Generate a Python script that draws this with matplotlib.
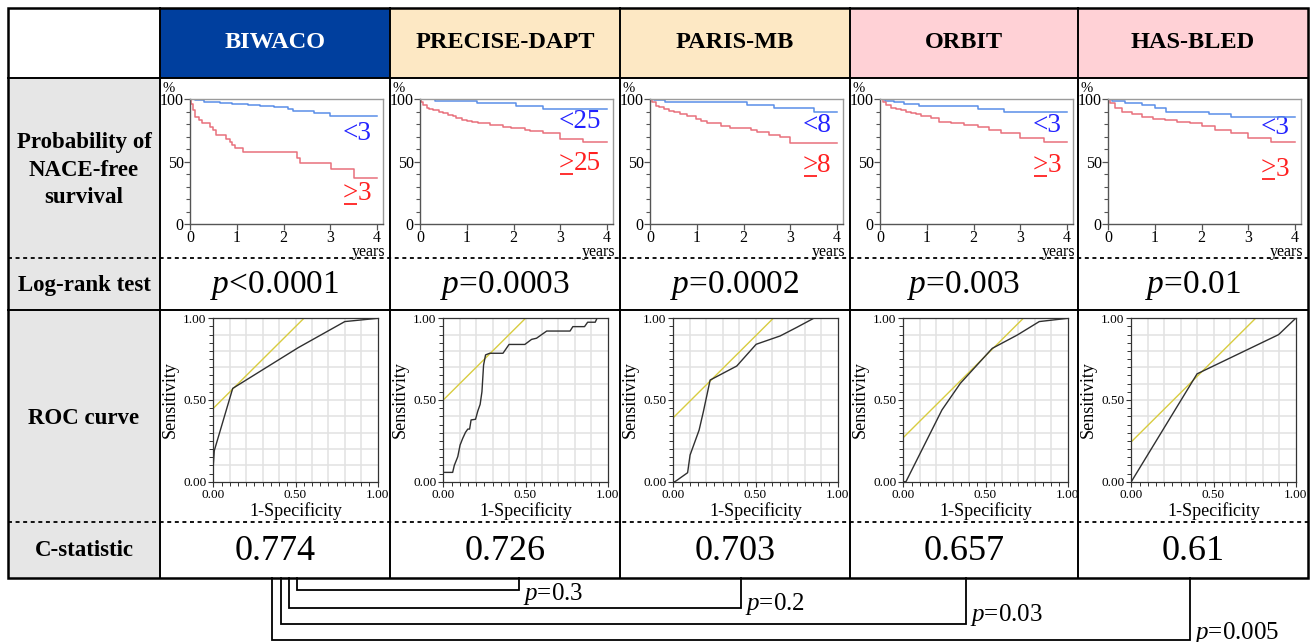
import matplotlib
matplotlib.use('Agg')
import matplotlib.pyplot as plt
from matplotlib.patches import Rectangle
from matplotlib.ticker import MultipleLocator

plt.rcParams['font.family'] = ['Liberation Serif', 'DejaVu Serif']
plt.rcParams['mathtext.fontset'] = 'custom'
plt.rcParams['mathtext.rm'] = 'Liberation Serif'
plt.rcParams['mathtext.it'] = 'Liberation Serif:italic'

# ---------------- data ----------------
scores = ['BIWACO', 'PRECISE-DAPT', 'PARIS-MB', 'ORBIT', 'HAS-BLED']
cutoffs = ['3', '25', '8', '3', '3']
logrank_p = ['<0.0001', '=0.0003', '=0.0002', '=0.003', '=0.01']
c_statistics = ['0.774', '0.726', '0.703', '0.657', '0.61']
comparison_p = ['=0.3', '=0.2', '=0.03', '=0.005']   # BIWACO vs PRECISE-DAPT, PARIS-MB, ORBIT, HAS-BLED
row_labels = ['Probability of\nNACE-free\nsurvival', 'Log-rank test', 'ROC curve', 'C-statistic']

# Kaplan-Meier (years, % event-free)
biwaco_low_t = [0, 0.1, 0.3, 0.45, 0.65, 0.9, 1.25, 1.5, 1.8, 2.1, 2.2, 2.65, 3.0, 4.0]
biwaco_low_s = [100, 99, 98, 97.6, 97, 96.4, 95.5, 94.7, 93.5, 92, 90.7, 88.8, 86.5, 86.5]
biwaco_high_t = [0, 0.03, 0.07, 0.11, 0.2, 0.25, 0.43, 0.5, 0.55, 0.78, 0.85, 0.9, 0.96, 1.14, 2.28, 2.35, 3.02, 3.51, 4.0]
biwaco_high_s = [100, 96, 91, 86, 83, 80.5, 78, 75, 71, 68, 66, 63, 60.5, 57.3, 53, 49, 43.7, 36.5, 36.5]

precise_low_t = [0, 0.32, 1.21, 2.06, 2.63, 4.0]
precise_low_s = [100, 98.4, 96.5, 94.7, 92, 92]
precise_high_t = [0, 0.03, 0.07, 0.14, 0.2, 0.28, 0.4, 0.5, 0.6, 0.7, 0.78, 0.9, 1.0, 1.12, 1.25, 1.49, 1.78, 1.95, 2.14, 2.25, 2.35, 2.63, 2.99, 3.49, 4.0]
precise_high_s = [100, 97.5, 95, 93, 92, 91, 90, 88.5, 87.5, 86.2, 85, 83.5, 82.4, 81.5, 80.5, 79.2, 77.9, 77.2, 76.5, 75.4, 74.4, 72.5, 67.7, 65.3, 65.3]

paris_low_t = [0, 0.08, 0.33, 2.08, 2.65, 3.5, 4.0]
paris_low_s = [100, 99, 97.3, 95.2, 93, 89.9, 89.9]
paris_high_t = [0, 0.05, 0.12, 0.2, 0.3, 0.4, 0.51, 0.65, 0.8, 0.98, 1.1, 1.22, 1.51, 1.72, 2.15, 2.29, 2.54, 2.79, 3.0, 4.0]
paris_high_s = [100, 97.9, 94.7, 93.3, 92, 90.5, 89.3, 87.8, 86.4, 84, 82.5, 81, 78.4, 76.5, 75.2, 73.3, 71.2, 69.9, 64.5, 64.5]

orbit_low_t = [0, 0.1, 0.31, 0.52, 0.84, 2.09, 2.65, 4.0]
orbit_low_s = [100, 98.4, 97.3, 95.7, 94.1, 92, 89.6, 89.6]
orbit_high_t = [0, 0.06, 0.13, 0.24, 0.35, 0.45, 0.56, 0.67, 0.78, 0.88, 1.09, 1.27, 1.52, 1.8, 2.09, 2.33, 2.58, 3.0, 3.5, 4.0]
orbit_high_s = [100, 97.9, 95.2, 93, 92, 91.2, 90, 89, 87.8, 86.7, 84.5, 81.9, 80.5, 79.2, 77.9, 75.2, 73, 68.5, 65.9, 65.9]

hasbled_low_t = [0, 0.08, 0.37, 0.72, 1.0, 1.25, 2.17, 2.63, 4.0]
hasbled_low_s = [100, 98.4, 96.8, 95.2, 93, 89.9, 88, 86, 86]
hasbled_high_t = [0, 0.05, 0.16, 0.3, 0.51, 0.72, 0.97, 1.22, 1.47, 1.75, 2.0, 2.28, 2.63, 2.99, 3.48, 4.0]
hasbled_high_s = [100, 96.5, 92.5, 89.9, 87.7, 85.9, 84, 83.2, 81.9, 80.5, 78.4, 75.2, 73, 68.5, 65.3, 65.3]

# ROC curves (1-specificity, sensitivity) and tangent-line intercepts
biwaco_fpr = [0, 0, 0.006, 0.118, 0.516, 0.80, 1.0]
biwaco_tpr = [0, 0.1, 0.19, 0.571, 0.82, 0.98, 1.0]
precise_fpr = [0, 0, 0.057, 0.067, 0.088, 0.102, 0.118, 0.135, 0.149, 0.16, 0.169, 0.196, 0.21, 0.224, 0.235, 0.245, 0.257,
               0.282, 0.363, 0.40, 0.496, 0.537, 0.567, 0.629, 0.771, 0.788, 0.859, 0.878, 0.924, 0.935, 1.0]
precise_tpr = [0, 0.057, 0.057, 0.10, 0.153, 0.224, 0.265, 0.302, 0.322, 0.322, 0.378, 0.382, 0.433, 0.473, 0.55, 0.714, 0.776,
               0.786, 0.786, 0.84, 0.84, 0.871, 0.878, 0.922, 0.922, 0.949, 0.949, 0.976, 0.976, 1.0, 1.0]
paris_fpr = [0, 0.01, 0.087, 0.102, 0.157, 0.183, 0.224, 0.386, 0.504, 0.65, 0.752, 0.854, 1.0]
paris_tpr = [0, 0, 0.055, 0.163, 0.316, 0.429, 0.622, 0.708, 0.841, 0.892, 0.945, 1.0, 1.0]
orbit_fpr = [0, 0.016, 0.235, 0.347, 0.541, 0.694, 0.827, 1.0]
orbit_tpr = [0, 0, 0.439, 0.602, 0.816, 0.898, 0.98, 1.0]
hasbled_fpr = [0, 0.40, 0.896, 1.0]
hasbled_tpr = [0, 0.66, 0.90, 1.0]
tangent_intercepts = [0.449, 0.5, 0.392, 0.27, 0.244]

km_low = [(biwaco_low_t, biwaco_low_s), (precise_low_t, precise_low_s), (paris_low_t, paris_low_s),
          (orbit_low_t, orbit_low_s), (hasbled_low_t, hasbled_low_s)]
km_high = [(biwaco_high_t, biwaco_high_s), (precise_high_t, precise_high_s), (paris_high_t, paris_high_s),
           (orbit_high_t, orbit_high_s), (hasbled_high_t, hasbled_high_s)]
rocs = [(biwaco_fpr, biwaco_tpr), (precise_fpr, precise_tpr), (paris_fpr, paris_tpr),
        (orbit_fpr, orbit_tpr), (hasbled_fpr, hasbled_tpr)]

# ---------------- layout / style ----------------
W, H = 1314, 642
col_x = [8, 160, 390, 620, 850, 1078, 1308]
row_y = [8, 78, 258, 310, 522, 578]
header_colors = ['#003f9e', '#fde8c4', '#fde8c4', '#ffd1d6', '#ffd1d6']
header_text_colors = ['white', 'black', 'black', 'black', 'black']
left_fill = '#e6e6e6'
km_blue, km_red = '#5a8ee8', '#e8707c'
lab_blue, lab_red = '#2222ff', '#ff2020'
low_label_y = [133, 121, 125, 126, 128]
high_label_y = [194, 164, 166, 166, 169]

fig = plt.figure(figsize=(W / 100, H / 100), dpi=100)
bg = fig.add_axes([0, 0, 1, 1])
bg.set_xlim(0, W)
bg.set_ylim(H, 0)
bg.axis('off')


def px_axes(x0, y0, x1, y1):
    return fig.add_axes([x0 / W, 1 - y1 / H, (x1 - x0) / W, (y1 - y0) / H])


renderer = fig.canvas.get_renderer()
inv = bg.transData.inverted()

# fills
bg.add_patch(Rectangle((col_x[0], row_y[1]), col_x[1] - col_x[0], row_y[5] - row_y[1],
                       facecolor=left_fill, edgecolor='none', zorder=0))
for i, name in enumerate(scores):
    bg.add_patch(Rectangle((col_x[i + 1], row_y[0]), col_x[i + 2] - col_x[i + 1], row_y[1] - row_y[0],
                           facecolor=header_colors[i], edgecolor='none', zorder=0))
    bg.text((col_x[i + 1] + col_x[i + 2]) / 2, 43, name, ha='center', va='center',
            fontsize=17.5, fontweight='bold', color=header_text_colors[i])

# grid lines of table
lw = 1.4
for x in col_x[1:-1]:
    bg.plot([x, x], [row_y[0], row_y[5]], color='black', lw=lw, zorder=3)
for y in [row_y[1], row_y[3]]:
    bg.plot([col_x[0], col_x[-1]], [y, y], color='black', lw=lw, zorder=3)
for y in [row_y[2], row_y[4]]:
    bg.plot([col_x[0], col_x[-1]], [y, y], color='black', lw=1.3, ls=(0, (2.2, 2.0)), zorder=3)
bg.add_patch(Rectangle((col_x[0], row_y[0]), col_x[-1] - col_x[0], row_y[5] - row_y[0],
                       facecolor='none', edgecolor='black', lw=1.8, zorder=4))

# row labels
row_centers = [170, 285, 418, 550]
for lab, yc in zip(row_labels, row_centers):
    bg.text(84, yc, lab, ha='center', va='center', fontsize=16.5, fontweight='bold',
            linespacing=1.38)

# log-rank and C-statistic
for i in range(5):
    cx = (col_x[i + 1] + col_x[i + 2]) / 2
    bg.text(cx, 286, r'$p$' + logrank_p[i], ha='center', va='center', fontsize=24)
    bg.text(cx, 551, c_statistics[i], ha='center', va='center', fontsize=26)

# KM plots
for i in range(5):
    cx = col_x[i + 1]
    ax = px_axes(cx + 30, 99, cx + 223, 224)
    t, s = km_low[i]
    ax.plot(t, s, drawstyle='steps-post', color=km_blue, lw=1.1)
    t, s = km_high[i]
    ax.plot(t, s, drawstyle='steps-post', color=km_red, lw=1.1)
    ax.set_xlim(0, 4 * 193 / 187)
    ax.set_ylim(0, 100)
    ax.set_xticks([0, 1, 2, 3, 4])
    ax.set_yticks([0, 50, 100])
    ax.yaxis.set_minor_locator(MultipleLocator(10))
    ax.tick_params(axis='both', which='major', direction='out', length=4, width=0.9,
                   color='#555555', labelsize=11.5, pad=0.5)
    ax.tick_params(axis='y', which='minor', direction='out', length=3, width=0.8, color='#555555')
    for sp in ax.spines.values():
        sp.set_color('#9a9a9a')
        sp.set_linewidth(1.0)
    ax.spines['left'].set_color('#555555')
    ax.spines['bottom'].set_color('#555555')
    ax.patch.set_alpha(0)
    bg.text(cx + 9, 88, '%', ha='center', va='center', fontsize=10.5)
    bg.text(cx + 225, 256.5, 'years', ha='right', va='baseline', fontsize=11.5)
    bg.text(cx + 211, low_label_y[i], '<' + cutoffs[i], ha='right', va='center',
            fontsize=19.5, color=lab_blue)
    # ">" with underline (≥ as drawn in the original)
    num = bg.text(cx + 211, high_label_y[i], cutoffs[i], ha='right', va='center',
                  fontsize=19.5, color=lab_red)
    nb = num.get_window_extent(renderer)
    nx0 = inv.transform((nb.x0, nb.y0))[0]
    gt = bg.text(nx0, high_label_y[i], '>', ha='right', va='center',
                 fontsize=19.5, color=lab_red)
    gb = gt.get_window_extent(renderer)
    (gx0, _), (gx1, _) = inv.transform([(gb.x0, gb.y0), (gb.x1, gb.y0)])
    bg.plot([gx0 + 1.5, gx1 - 1.0], [high_label_y[i] + 10, high_label_y[i] + 10],
            color=lab_red, lw=1.3, solid_capstyle='butt')

# ROC plots
for i in range(5):
    cx = col_x[i + 1]
    ax = px_axes(cx + 53.3, 318.3, cx + 217.7, 481.7)
    for g in [0.1, 0.2, 0.3, 0.4, 0.5, 0.6, 0.7, 0.8, 0.9]:
        ax.axvline(g, color='#e2e2e2', lw=1.1, zorder=0)
        ax.axhline(g, color='#e2e2e2', lw=1.1, zorder=0)
    b = tangent_intercepts[i]
    ax.plot([0, 1 - b], [b, 1], color='#d8cc40', lw=1.0, zorder=2)
    f, tp = rocs[i]
    ax.plot(f, tp, color='#303030', lw=1.0, zorder=3)
    ax.set_xlim(0, 1)
    ax.set_ylim(0, 1)
    ax.set_xticks([0, 0.5, 1.0])
    ax.set_yticks([0, 0.5, 1.0])
    ax.set_xticklabels(['0.00', '0.50', '1.00'])
    ax.set_yticklabels(['0.00', '0.50', '1.00'])
    ax.xaxis.set_minor_locator(MultipleLocator(0.05))
    ax.yaxis.set_minor_locator(MultipleLocator(0.05))
    ax.tick_params(axis='both', which='major', direction='out', length=3.5, width=0.8,
                   color='#333333', labelsize=9.5, pad=1.5)
    ax.tick_params(axis='both', which='minor', direction='out', length=3, width=0.7, color='#333333')
    for sp in ax.spines.values():
        sp.set_color('#333333')
        sp.set_linewidth(0.9)
    ax.set_xlabel('1-Specificity', fontsize=13, labelpad=1)
    ax.set_ylabel('Sensitivity', fontsize=13, labelpad=3)

# comparison brackets
left_x = [297, 289, 281, 272]
bracket_y = [590, 608, 624, 640]
text_y = [594, 604, 615, 633]
for k in range(4):
    rx = (col_x[k + 2] + col_x[k + 3]) / 2 + [14, 6, 2, -3][k]
    bg.plot([left_x[k], left_x[k], rx, rx], [row_y[5], bracket_y[k], bracket_y[k], row_y[5]],
            color='black', lw=1.3, zorder=2, solid_joinstyle='miter')
    bg.text(rx + 4, text_y[k], r'$p$' + comparison_p[k], ha='left', va='center', fontsize=18)

fig.savefig('out.png', dpi=100)
